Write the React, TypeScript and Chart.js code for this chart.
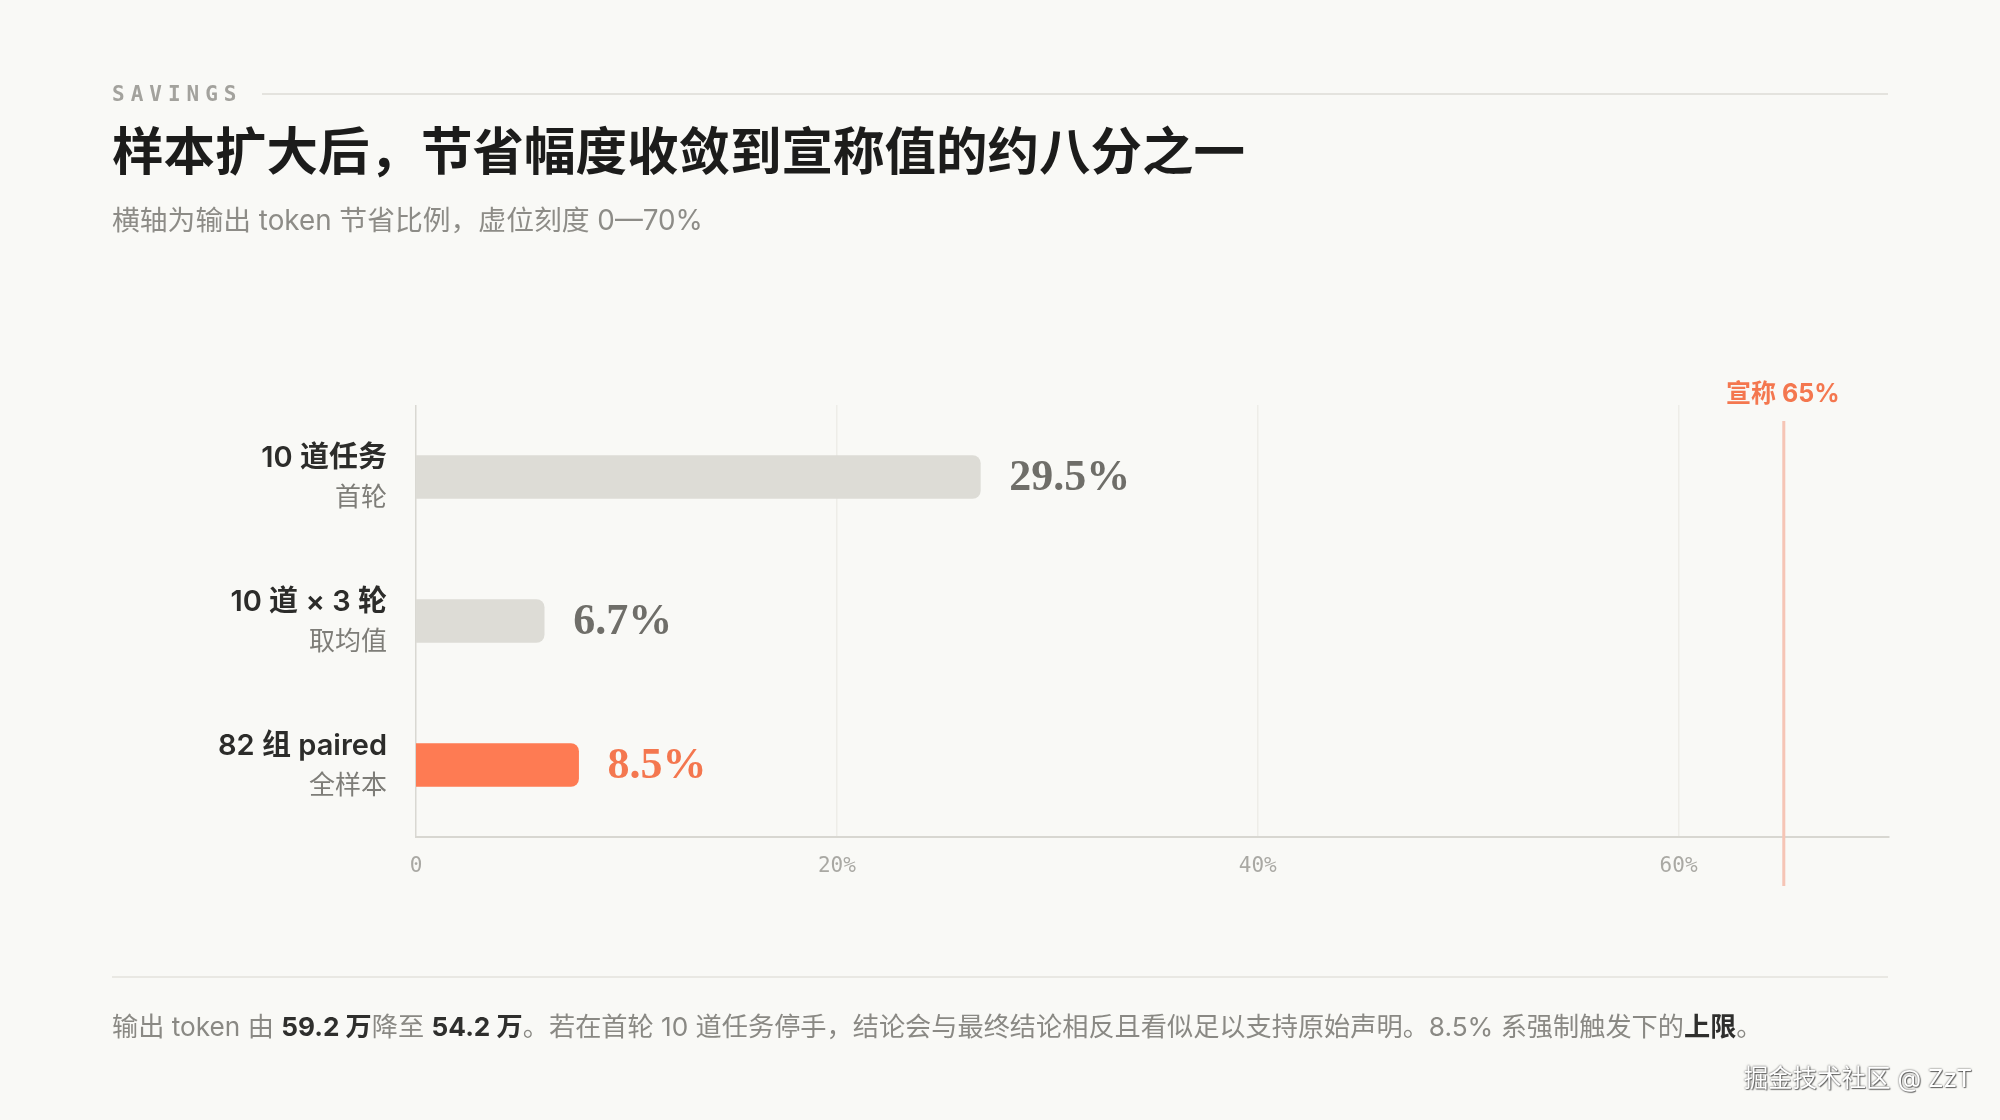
import React, { useEffect, useRef } from "react";
import { Chart, registerables } from "chart.js";

Chart.register(...registerables);

// ---- data ----
const categories = ["10 道任务", "10 道 × 3 轮", "82 组 paired"];
const subLabels = ["首轮", "取均值", "全样本"];
const savings = [29.5, 6.7, 8.5];
const valueLabels = ["29.5%", "6.7%", "8.5%"];
const highlight = [false, false, true];
const claimedValue = 65;
const claimedLabel = "宣称 65%";
const axisTicks = [0, 20, 40, 60];
const axisMax = 70;
const barTrackMax = 77; // bars are drawn on their own (virtual) track

// ---- styles ----
const BG = "#f9f9f6";
const BAR_GREY = "#dddcd6";
const BAR_ORANGE = "#fe7b53";
const TEXT_GREY = "#6f6e69";
const TEXT_ORANGE = "#f4774f";
const CLAIM_LINE = "#f6c5b5";
const SANS = "Inter, 'Noto Sans CJK SC', sans-serif";
const MONO = "'DejaVu Sans Mono', 'Liberation Mono', monospace";

const overlayPlugin = {
  id: "overlay",
  afterDraw(chart: any) {
    const ctx = chart.ctx as CanvasRenderingContext2D;
    const area = chart.chartArea;
    const meta = chart.getDatasetMeta(0);

    // claimed reference line
    const cx = chart.scales.x.getPixelForValue(claimedValue);
    ctx.save();
    ctx.strokeStyle = CLAIM_LINE;
    ctx.lineWidth = 3;
    ctx.beginPath();
    ctx.moveTo(cx, area.top + 16);
    ctx.lineTo(cx, area.bottom + 49);
    ctx.stroke();
    ctx.font = `700 25px ${SANS}`;
    ctx.fillStyle = TEXT_ORANGE;
    ctx.textAlign = "center";
    ctx.textBaseline = "middle";
    ctx.fillText(claimedLabel, cx - 1, area.top - 11);
    ctx.restore();

    meta.data.forEach((bar: any, i: number) => {
      ctx.save();
      ctx.font = "bold 44px 'Liberation Serif', 'DejaVu Serif', serif";
      ctx.fillStyle = highlight[i] ? TEXT_ORANGE : TEXT_GREY;
      ctx.textAlign = "left";
      ctx.textBaseline = "middle";
      ctx.fillText(valueLabels[i], bar.x + 29, bar.y + 2);

      ctx.textAlign = "right";
      ctx.font = `600 29px ${SANS}`;
      ctx.fillStyle = "#2c2c2a";
      ctx.fillText(categories[i], area.left - 29, bar.y - 19);
      ctx.font = `400 26px ${SANS}`;
      ctx.fillStyle = "#7e7d78";
      ctx.fillText(subLabels[i], area.left - 29, bar.y + 21);
      ctx.restore();
    });
  },
};

function SavingsChart() {
  const ref = useRef<HTMLCanvasElement | null>(null);
  useEffect(() => {
    if (!ref.current) return;
    const chart = new Chart(ref.current, {
      type: "bar",
      data: {
        labels: categories,
        datasets: [
          {
            data: savings,
            xAxisID: "xb",
            yAxisID: "y",
            backgroundColor: highlight.map((h) => (h ? BAR_ORANGE : BAR_GREY)),
            borderRadius: 8,
            borderSkipped: "start",
            barThickness: 43,
          },
        ],
      },
      options: {
        indexAxis: "y",
        responsive: false,
        maintainAspectRatio: false,
        animation: false,
        layout: { padding: { left: 416, right: 111, top: 405, bottom: 223 } },
        plugins: { legend: { display: false }, tooltip: { enabled: false } },
        scales: {
          y: { type: "category", display: false },
          xb: { type: "linear", axis: "x", display: false, min: 0, max: barTrackMax },
          x: {
            type: "linear",
            position: "bottom",
            min: 0,
            max: axisMax,
            afterBuildTicks: (s: any) => {
              s.ticks = axisTicks.map((v) => ({ value: v }));
            },
            afterFit: (s: any) => {
              s.height = 60;
            },
            grid: {
              drawTicks: false,
              lineWidth: 1.5,
              color: (c: any) => (c.tick && c.tick.value === 0 ? "#d9d8d2" : "#eeede8"),
            },
            border: { display: true, color: "#d8d7d1", width: 2 },
            ticks: {
              padding: 17,
              color: "#a9a8a3",
              font: { family: MONO, size: 21 },
              callback: (v: any) => (Number(v) === 0 ? "0" : `${v}%`),
            },
          },
        },
      },
      plugins: [overlayPlugin],
    } as any);
    return () => chart.destroy();
  }, []);
  return (
    <canvas
      ref={ref}
      width={2000}
      height={1120}
      style={{ position: "absolute", left: 0, top: 0, width: 2000, height: 1120 }}
    />
  );
}

export default function App() {
  const abs = (o: React.CSSProperties): React.CSSProperties => ({ position: "absolute", whiteSpace: "nowrap", ...o });
  const strong: React.CSSProperties = { fontWeight: 700, color: "#2f2f2d" };
  return (
    <div
      style={{
        position: "fixed",
        left: 0,
        top: 0,
        width: 2000,
        height: 1120,
        background: BG,
        overflow: "hidden",
        fontFamily: SANS,
      }}
    >
      <SavingsChart />
      <div style={abs({ left: 112, top: 79, fontFamily: MONO, fontWeight: 700, fontSize: 21, lineHeight: "30px", letterSpacing: 6, color: "#a3a29d" })}>
        SAVINGS
      </div>
      <div style={abs({ left: 262, top: 93, width: 1626, height: 2, background: "#e4e3de" })} />
      <div style={abs({ left: 112, top: 121, fontSize: 51.5, fontWeight: 700, lineHeight: "60px", color: "#1c1c1b" })}>
        样本扩大后，节省幅度收敛到宣称值的约八分之一
      </div>
      <div style={abs({ left: 112, top: 202, fontSize: 27.8, lineHeight: "36px", color: "#8d8c87" })}>
        横轴为输出 token 节省比例，虚位刻度 0—70%
      </div>
      <div style={abs({ left: 112, top: 976, width: 1776, height: 2, background: "#e9e8e3" })} />
      <div style={abs({ left: 112, top: 1009, fontSize: 26.2, lineHeight: "36px", color: "#8a8984" })}>
        输出 token 由 <span style={strong}>59.2 万</span>降至 <span style={strong}>54.2 万</span>。若在首轮 10 道任务停手，结论会与最终结论相反且看似足以支持原始声明。8.5% 系强制触发下的<span style={strong}>上限</span>。
      </div>
      <div
        style={abs({
          right: 28,
          top: 1061,
          fontSize: 24.5,
          lineHeight: "34px",
          color: "#ffffff",
          textShadow: "0 0 2px rgba(0,0,0,0.75), 1px 1px 1px rgba(0,0,0,0.5)",
        })}
      >
        掘金技术社区 @ ZzT
      </div>
    </div>
  );
}
